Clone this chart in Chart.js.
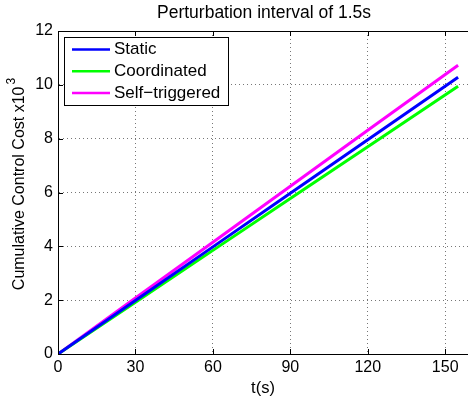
<!DOCTYPE html>
<html>
<head>
<meta charset="utf-8">
<script src="https://cdn.jsdelivr.net/npm/chart.js@4.4.1/dist/chart.umd.min.js"></script>
<style>
  html, body { margin: 0; padding: 0; background: #fff; overflow: hidden; }
  #wrap { width: 472px; height: 403px; }
</style>
</head>
<body>
<div id="wrap"><canvas id="chart" width="472" height="403"></canvas></div>
<script>
// time stamps (s) and cumulative cost (x10^3)
const times = [0, 30, 60, 90, 120, 155];
const staticCost = [0, 1.99, 3.98, 5.97, 7.96, 10.28];
const coordinatedCost = [0, 1.92, 3.85, 5.78, 7.70, 9.95];
const selfTriggeredCost = [0, 2.08, 4.15, 6.23, 8.31, 10.73];
const seriesNames = ['Static', 'Coordinated', 'Self\u2212triggered'];
const seriesColors = ['#0000ff', '#00ff00', '#ff00ff'];
const xTicks = [0, 30, 60, 90, 120, 150];
const yTicks = [0, 2, 4, 6, 8, 10, 12];

const FONT = '"Liberation Sans", Arial, sans-serif';

function toPoints(ys) {
    return times.map((t, i) => ({ x: t, y: ys[i] }));
}

// draws title, axis labels, inward ticks, top border and the boxed legend
const matlabLook = {
    id: 'matlabLook',
    afterDraw(chart) {
        const ctx = chart.ctx;
        const area = chart.chartArea;
        const xs = chart.scales.x;
        const ys = chart.scales.y;
        ctx.save();

        // inward tick marks
        ctx.strokeStyle = '#000';
        ctx.lineWidth = 1;
        ctx.beginPath();
        xTicks.forEach(v => {
            const px = Math.round(xs.getPixelForValue(v)) + 0.5;
            ctx.moveTo(px, area.bottom);
            ctx.lineTo(px, area.bottom - 5);
            ctx.moveTo(px, area.top);
            ctx.lineTo(px, area.top + 5);
        });
        yTicks.forEach(v => {
            const py = Math.round(ys.getPixelForValue(v)) + 0.5;
            ctx.moveTo(area.left, py);
            ctx.lineTo(area.left + 5, py);
        });
        // top border
        ctx.moveTo(area.left, Math.round(area.top) + 0.5);
        ctx.lineTo(area.right, Math.round(area.top) + 0.5);
        ctx.stroke();

        // title
        ctx.fillStyle = '#000';
        ctx.font = '17.5px ' + FONT;
        ctx.textAlign = 'center';
        ctx.textBaseline = 'middle';
        ctx.fillText('Perturbation interval of 1.5s', 264, 13);

        // x label
        ctx.font = '16.5px ' + FONT;
        ctx.fillText('t(s)', 263, 388);

        // y label with superscript
        ctx.translate(20, 184);
        ctx.rotate(-Math.PI / 2);
        const main = 'Cumulative Control Cost x10';
        ctx.font = '16px ' + FONT;
        const wMain = ctx.measureText(main).width;
        ctx.font = '12px ' + FONT;
        const wSup = ctx.measureText('3').width;
        const start = -(wMain + wSup + 2) / 2;
        ctx.textAlign = 'left';
        ctx.font = '16px ' + FONT;
        ctx.fillText(main, start, 0);
        ctx.font = '12px ' + FONT;
        ctx.fillText('3', start + wMain + 2, -8);
        ctx.setTransform(1, 0, 0, 1, 0, 0);

        // legend box
        const lx = 64.5, ly = 37.5, lw = 164, lh = 68;
        ctx.fillStyle = '#fff';
        ctx.fillRect(lx, ly, lw, lh);
        ctx.strokeStyle = '#000';
        ctx.lineWidth = 1;
        ctx.strokeRect(lx, ly, lw, lh);
        ctx.font = '17px ' + FONT;
        ctx.textAlign = 'left';
        ctx.textBaseline = 'middle';
        chart.data.datasets.forEach((ds, i) => {
            const cy = 49.5 + i * 21.7;
            ctx.strokeStyle = ds.borderColor;
            ctx.lineWidth = 2.5;
            ctx.beginPath();
            ctx.moveTo(72, cy);
            ctx.lineTo(110, cy);
            ctx.stroke();
            ctx.fillStyle = '#000';
            ctx.fillText(ds.label, 114, cy);
        });
        ctx.restore();
    }
};

const datasets = [staticCost, coordinatedCost, selfTriggeredCost].map((ys, i) => ({
    label: seriesNames[i],
    data: toPoints(ys),
    borderColor: seriesColors[i],
    backgroundColor: seriesColors[i],
    borderWidth: 3,
    pointRadius: 0,
    tension: 0,
    fill: false
}));

new Chart(document.getElementById('chart').getContext('2d'), {
    type: 'line',
    data: { datasets: datasets },
    plugins: [matlabLook],
    options: {
        responsive: false,
        animation: false,
        events: [],
        layout: { padding: { top: 31, right: 1, left: 0, bottom: 0 } },
        plugins: {
            legend: { display: false },
            tooltip: { enabled: false },
            title: { display: false }
        },
        scales: {
            x: {
                type: 'linear',
                min: 0,
                max: 160,
                afterBuildTicks: scale => { scale.ticks = xTicks.map(v => ({ value: v })); },
                afterFit: scale => { scale.height = 49; },
                ticks: { color: '#000', font: { family: FONT, size: 16 }, padding: 4, maxRotation: 0 },
                grid: { color: '#777', lineWidth: 1, drawTicks: false },
                border: { color: '#000', width: 1, dash: [1, 3] }
            },
            y: {
                type: 'linear',
                min: 0,
                max: 12,
                afterBuildTicks: scale => { scale.ticks = yTicks.map(v => ({ value: v })); },
                afterFit: scale => { scale.width = 58; },
                ticks: { color: '#000', font: { family: FONT, size: 16 }, padding: 5 },
                grid: { color: '#777', lineWidth: 1, drawTicks: false },
                border: { color: '#000', width: 1, dash: [1, 3] }
            }
        }
    }
});
</script>
</body>
</html>
